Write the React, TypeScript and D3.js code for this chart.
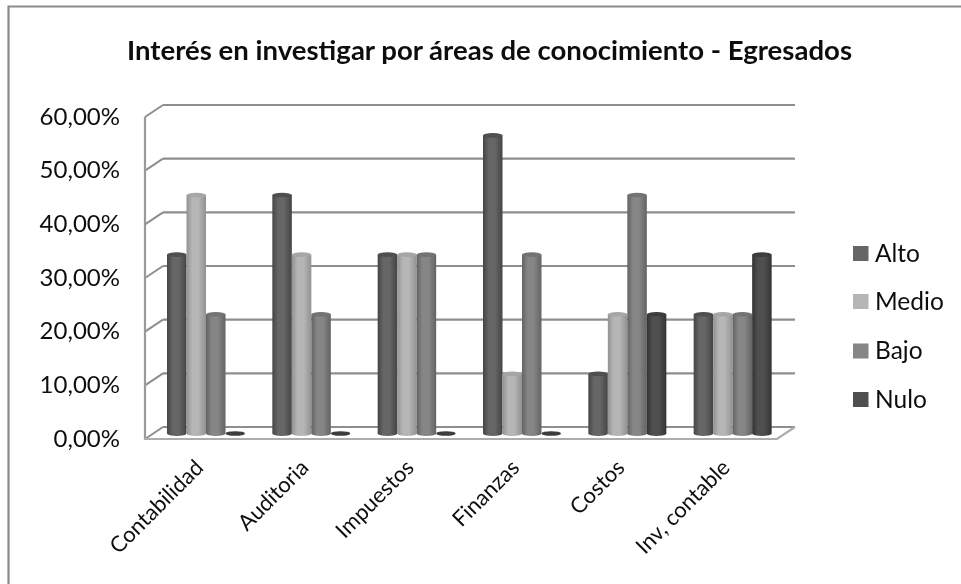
import React from "react";
import * as d3 from "d3";

const categories = ["Contabilidad", "Auditoria", "Impuestos", "Finanzas", "Costos", "Inv, contable"];
const seriesNames = ["Alto", "Medio", "Bajo", "Nulo"];
const alto = [33.33, 44.44, 33.33, 55.56, 11.11, 22.22];
const medio = [44.44, 33.33, 33.33, 11.11, 22.22, 22.22];
const bajo = [22.22, 22.22, 33.33, 33.33, 44.44, 22.22];
const nulo = [0, 0, 0, 0, 22.22, 33.33];
const seriesValues = [alto, medio, bajo, nulo];
const yTicks = [0, 10, 20, 30, 40, 50, 60];

const colors = ["#666666", "#b6b6b6", "#868686", "#505050"];
const edgeColors = ["#454545", "#929292", "#636363", "#333333"];
const topColors = ["#4f4f4f", "#a6a6a6", "#737373", "#3c3c3c"];
const FONT = "Lato, Carlito, sans-serif";
const DX = 18;
const DY = 12;

export default function App() {
  const yFront = d3.scaleLinear().domain([0, 60]).range([439, 117]);
  const yBack = (v: number) => yFront(v) - DY;
  const yBar = (v: number) => yFront(v) - 5.5;
  const x = d3.scaleBand<string>().domain(categories).range([145, 777]);
  const sub = d3.scaleBand<string>().domain(seriesNames).range([22, 100]);
  const legendY = [253.5, 301.5, 351, 399.5];
  return (
    <svg width={961} height={584} viewBox="0 0 961 584"
      style={{ position: "absolute", left: 0, top: 0, display: "block", background: "#fff" }}
      fontFamily={FONT}>
      <defs>
        <filter id="soft" x="-5%" y="-5%" width="110%" height="110%">
          <feGaussianBlur stdDeviation="0.45" />
        </filter>
        {colors.map((c, i) => (
          <linearGradient key={c} id={`cyl${i}`} x1="0" x2="1" y1="0" y2="0">
            <stop offset="0" stopColor={edgeColors[i]} />
            <stop offset="0.3" stopColor={c} />
            <stop offset="0.6" stopColor={c} />
            <stop offset="1" stopColor={edgeColors[i]} />
          </linearGradient>
        ))}
      </defs>
      <g filter="url(#soft)">
        <path d="M8.5,584V6.5H961" fill="none" stroke="#8a8a8a" strokeWidth={2.2} />
        <text x={489.5} y={60} textAnchor="middle" fontSize={26} fontWeight={700} fill="#111"
          textLength={725} lengthAdjust="spacingAndGlyphs">
          Interés en investigar por áreas de conocimiento - Egresados
        </text>

        {/* walls */}
        {yTicks.map((t) => (
          <g key={t} stroke="#8e8e8e" strokeWidth={2.1} fill="none">
            <line x1={x.range()[0] + DX} x2={x.range()[1] + DX} y1={yBack(t)} y2={yBack(t)} />
            <line x1={x.range()[0]} x2={x.range()[0] + DX} y1={yFront(t)} y2={yBack(t)} />
          </g>
        ))}
        <line x1={145} x2={145} y1={yFront(60)} y2={yFront(0)} stroke="#9a9a9a" strokeWidth={2.2} />
        <path d={`M144,${yFront(0)}H777L${777 + DX},${yBack(0)}`} fill="none" stroke="#adadad" strokeWidth={2.2} />

        {/* cylinders */}
        {categories.map((cat, ci) =>
          seriesNames.map((s, si) => {
            const v = seriesValues[si][ci];
            const w = sub.bandwidth();
            const left = (x(cat) as number) + (sub(s) as number);
            const cx = left + w / 2;
            const top = yBar(v);
            const base = yBar(0);
            return (
              <g key={cat + s}>
                {v > 0 && (
                  <path
                    d={`M${left},${top}V${base}A${w / 2},2.5 0 0 0 ${left + w},${base}V${top}Z`}
                    fill={`url(#cyl${si})`}
                  />
                )}
                <ellipse cx={cx} cy={top} rx={w / 2} ry={2.3} fill={topColors[si]} />
              </g>
            );
          })
        )}

        {/* y labels */}
        {yTicks.map((t) => (
          <text key={t} x={120} y={yFront(t) + 7.5} textAnchor="end" fontSize={24} fill="#111">
            {d3.format(".2f")(t).replace(".", ",")}%
          </text>
        ))}

        {/* x labels */}
        {categories.map((cat) => {
          const px = (x(cat) as number) + x.bandwidth() / 2 + 7;
          return (
            <text key={cat} transform={`translate(${px},469) rotate(-45)`} textAnchor="end"
              fontSize={22} fill="#111">
              {cat}
            </text>
          );
        })}

        {/* legend */}
        {seriesNames.map((s, i) => (
          <g key={s}>
            <rect x={853} y={legendY[i] - 7.5} width={15.5} height={15} fill={colors[i]} />
            <text x={875} y={legendY[i] + 8} fontSize={24.5} fill="#111">{s}</text>
          </g>
        ))}
      </g>
    </svg>
  );
}
